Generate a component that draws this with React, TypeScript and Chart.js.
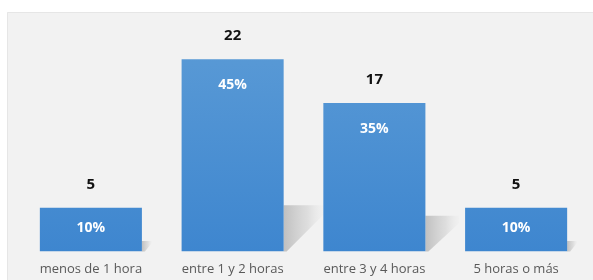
import React, { useEffect, useRef } from "react";
import { Chart, registerables } from "chart.js";

Chart.register(...registerables);

const categories = ["menos de 1 hora", "entre 1 y 2 horas", "entre 3 y 4 horas", "5 horas o más"];
const counts = [5, 22, 17, 5];
const percentLabels = ["10%", "45%", "35%", "10%"];

const FONT = "'Open Sans', Lato, sans-serif";

const panelPlugin = {
  id: "panel",
  beforeDraw(chart: any) {
    const { ctx, width, height } = chart;
    ctx.save();
    ctx.fillStyle = "#ffffff";
    ctx.fillRect(0, 0, width, height);
    ctx.fillStyle = "#f2f2f2";
    ctx.fillRect(7, 12, width - 7, height - 12);
    ctx.strokeStyle = "#e6e6e6";
    ctx.lineWidth = 1;
    ctx.beginPath();
    ctx.moveTo(7.5, height);
    ctx.lineTo(7.5, 12.5);
    ctx.lineTo(width, 12.5);
    ctx.stroke();
    ctx.restore();
  },
};

const shadowPlugin = {
  id: "barShadow",
  beforeDatasetsDraw(chart: any) {
    const { ctx } = chart;
    const meta = chart.getDatasetMeta(0);
    ctx.save();
    meta.data.forEach((bar: any) => {
      const r = bar.x + bar.width / 2;
      const b = bar.base;
      const h = (b - bar.y) * 0.24;
      const w = Math.min(h * 0.95, 40);
      const g = ctx.createLinearGradient(r, 0, r + w, 0);
      g.addColorStop(0, "rgba(130,130,130,0.45)");
      g.addColorStop(0.6, "rgba(160,160,160,0.25)");
      g.addColorStop(1, "rgba(210,210,210,0.05)");
      ctx.fillStyle = g;
      ctx.beginPath();
      ctx.moveTo(r, b);
      ctx.lineTo(r, b - h);
      ctx.lineTo(r + w, b - h);
      ctx.lineTo(r + w, b - h * 0.8);
      ctx.lineTo(r + 3, b);
      ctx.closePath();
      ctx.fill();
    });
    ctx.restore();
  },
};

const labelPlugin = {
  id: "barLabels",
  afterDatasetsDraw(chart: any) {
    const { ctx } = chart;
    const meta = chart.getDatasetMeta(0);
    ctx.save();
    ctx.textAlign = "center";
    ctx.textBaseline = "middle";
    meta.data.forEach((bar: any, i: number) => {
      ctx.fillStyle = "#111111";
      ctx.font = `bold 15px ${FONT}`;
      ctx.fillText(String(counts[i]), bar.x, bar.y - 23);
      ctx.fillStyle = "#ffffff";
      ctx.font = `bold 14px ${FONT}`;
      const mid = (bar.y + bar.base) / 2 - 2;
      ctx.fillText(percentLabels[i], bar.x, Math.min(bar.y + 26, mid));
    });
    ctx.restore();
  },
};

export default function App() {
  const ref = useRef<HTMLCanvasElement>(null);
  useEffect(() => {
    const canvas = ref.current!;
    const chart = new Chart(canvas, {
      type: "bar",
      data: {
        labels: categories,
        datasets: [
          {
            data: counts,
            backgroundColor: (c: any) => {
              const area = c.chart.chartArea;
              if (!area) return "#4f92d4";
              const g = c.chart.ctx.createLinearGradient(0, area.top, 0, area.bottom);
              g.addColorStop(0, "#5b9bd6");
              g.addColorStop(1, "#3e86cf");
              return g;
            },
            borderWidth: 0,
            categoryPercentage: 1,
            barPercentage: 0.72,
          },
        ],
      },
      options: {
        responsive: false,
        animation: false,
        layout: { padding: { top: 33, left: 20, right: 6, bottom: 1 } },
        plugins: { legend: { display: false }, tooltip: { enabled: false } },
        scales: {
          x: {
            grid: { display: false },
            border: { display: false },
            ticks: { color: "#595959", font: { size: 13, family: FONT }, padding: 2, maxRotation: 0 },
          },
          y: {
            display: false,
            min: 0,
            max: 25,
          },
        },
      },
      plugins: [panelPlugin, shadowPlugin, labelPlugin],
    });
    return () => chart.destroy();
  }, []);
  return (
    <div style={{ position: "fixed", left: 0, top: 0, width: 593, height: 280 }}>
      <canvas ref={ref} width={593} height={280} style={{ display: "block" }} />
    </div>
  );
}
